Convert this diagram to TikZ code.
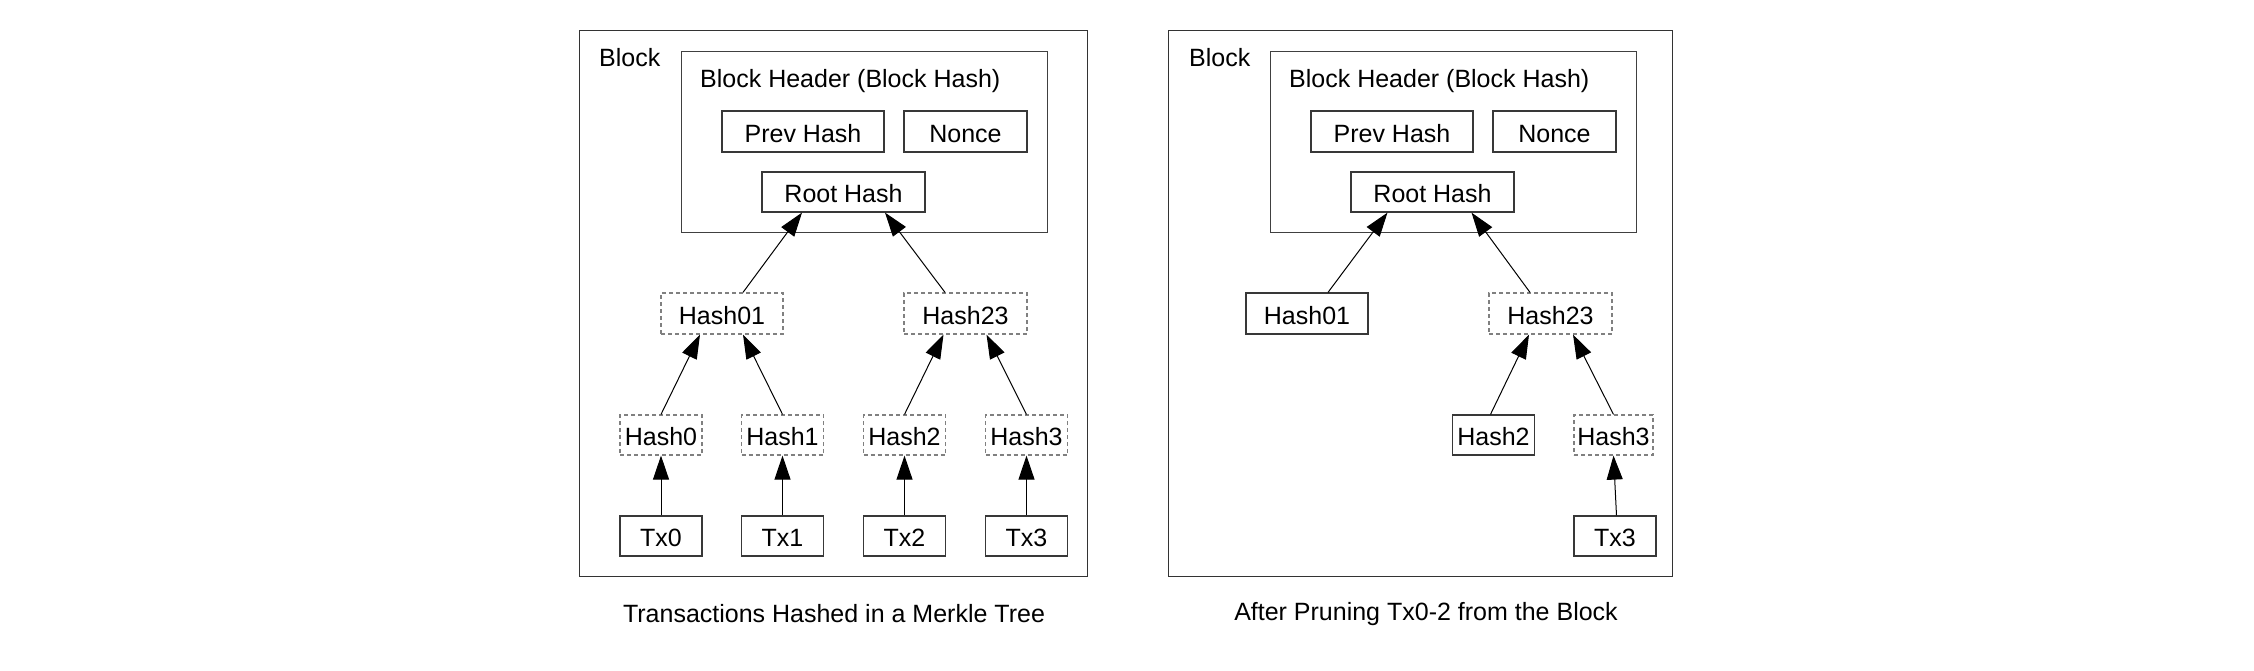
\documentclass[tikz,border=0pt]{standalone}
\usepackage{fontspec}
\setmainfont{Liberation Sans}
\usetikzlibrary{arrows.meta}
\tikzset{
  lbl/.style={font=\fontsize{25}{30}\selectfont, inner sep=0pt},
  hbox/.style={draw=black!78, line width=1.2pt, rectangle, inner sep=0pt,
    font=\fontsize{25}{30}\selectfont, text height=21pt, text depth=0pt},
  dbox/.style={hbox, draw=black!50, dash pattern=on 4pt off 3pt},
  frame/.style={draw=black!80, line width=1.2pt, rectangle, inner sep=0pt},
  arr/.style={draw=black, line width=1pt, -{Triangle[length=24pt,width=16pt]}}
}
\begin{document}
\begin{tikzpicture}[x=1pt,y=-1pt]
\useasboundingbox (0,0) rectangle (2254,670);
\fill[white] (0,0) rectangle (2254,670);

% ---------- Left panel ----------
\node[frame, minimum width=508, minimum height=546, anchor=north west] (blockL) at (579,30) {};
\node[lbl, anchor=base west] (blockLlbl) at (599,66.5) {Block};
\node[frame, draw=black!75, minimum width=366, minimum height=181, anchor=north west] (hdrL) at (681,51) {};
\node[lbl, anchor=base west] (hdrLlbl) at (700,87) {Block Header (Block Hash)};
\node[hbox, minimum width=162, minimum height=41] (prevL) at (803,131.5) {Prev Hash};
\node[hbox, minimum width=123, minimum height=41] (nonceL) at (965.5,131.5) {Nonce};
\node[hbox, minimum width=163, minimum height=40] (rootL) at (843.5,192) {Root Hash};
\node[dbox, minimum width=122, minimum height=41] (h01L) at (722,313.5) {Hash01};
\node[dbox, minimum width=123, minimum height=41] (h23L) at (965.5,313.5) {Hash23};
\node[dbox, minimum width=82, minimum height=40] (h0L) at (661,435) {Hash0};
\node[dbox, minimum width=82, minimum height=40] (h1L) at (782.5,435) {Hash1};
\node[dbox, minimum width=82, minimum height=40] (h2L) at (904.5,435) {Hash2};
\node[dbox, minimum width=82, minimum height=40] (h3L) at (1026.5,435) {Hash3};
\node[hbox, minimum width=82, minimum height=40] (t0L) at (661,536) {Tx0};
\node[hbox, minimum width=82, minimum height=40] (t1L) at (782.5,536) {Tx1};
\node[hbox, minimum width=82, minimum height=40] (t2L) at (904.5,536) {Tx2};
\node[hbox, minimum width=82, minimum height=40] (t3L) at (1026.5,536) {Tx3};
\node[lbl] (capL) at (834,614) {Transactions Hashed in a Merkle Tree};

\draw[arr] ([xshift=21pt]h01L.north) -- ([xshift=-41.5pt]rootL.south);
\draw[arr] ([xshift=-20.5pt]h23L.north) -- ([xshift=41.5pt]rootL.south);
\draw[arr] (h0L.north) -- ([xshift=-22pt]h01L.south);
\draw[arr] (h1L.north) -- ([xshift=21pt]h01L.south);
\draw[arr] (h2L.north) -- ([xshift=-22pt]h23L.south);
\draw[arr] (h3L.north) -- ([xshift=21pt]h23L.south);
\draw[arr] (t0L) -- (h0L);
\draw[arr] (t1L) -- (h1L);
\draw[arr] (t2L) -- (h2L);
\draw[arr] (t3L) -- (h3L);

% ---------- Right panel ----------
\node[frame, minimum width=504, minimum height=546, anchor=north west] (blockR) at (1168,30) {};
\node[lbl, anchor=base west] (blockRlbl) at (1189,66.5) {Block};
\node[frame, draw=black!75, minimum width=366, minimum height=181, anchor=north west] (hdrR) at (1270,51) {};
\node[lbl, anchor=base west] (hdrRlbl) at (1289,87) {Block Header (Block Hash)};
\node[hbox, minimum width=162, minimum height=41] (prevR) at (1392,131.5) {Prev Hash};
\node[hbox, minimum width=123, minimum height=41] (nonceR) at (1554.5,131.5) {Nonce};
\node[hbox, minimum width=163, minimum height=40] (rootR) at (1432.5,192) {Root Hash};
\node[hbox, minimum width=122, minimum height=41] (h01R) at (1307,313.5) {Hash01};
\node[dbox, minimum width=123, minimum height=41] (h23R) at (1550.5,313.5) {Hash23};
\node[hbox, minimum width=82, minimum height=40] (h2R) at (1493.5,435) {Hash2};
\node[dbox, minimum width=79, minimum height=40] (h3R) at (1613.5,435) {Hash3};
\node[hbox, minimum width=82, minimum height=40] (t3R) at (1615,536) {Tx3};
\node[lbl] (capR) at (1426,614) {After Pruning Tx0-2 from the Block};

\draw[arr] ([xshift=21pt]h01R.north) -- ([xshift=-45pt]rootR.south);
\draw[arr] ([xshift=-20.5pt]h23R.north) -- ([xshift=39pt]rootR.south);
\draw[arr] ([xshift=-3pt]h2R.north) -- ([xshift=-21.5pt]h23R.south);
\draw[arr] (h3R.north) -- ([xshift=22.5pt]h23R.south);
\draw[arr] ([xshift=1.5pt]t3R.north) -- (h3R.south);
\end{tikzpicture}
\end{document}
